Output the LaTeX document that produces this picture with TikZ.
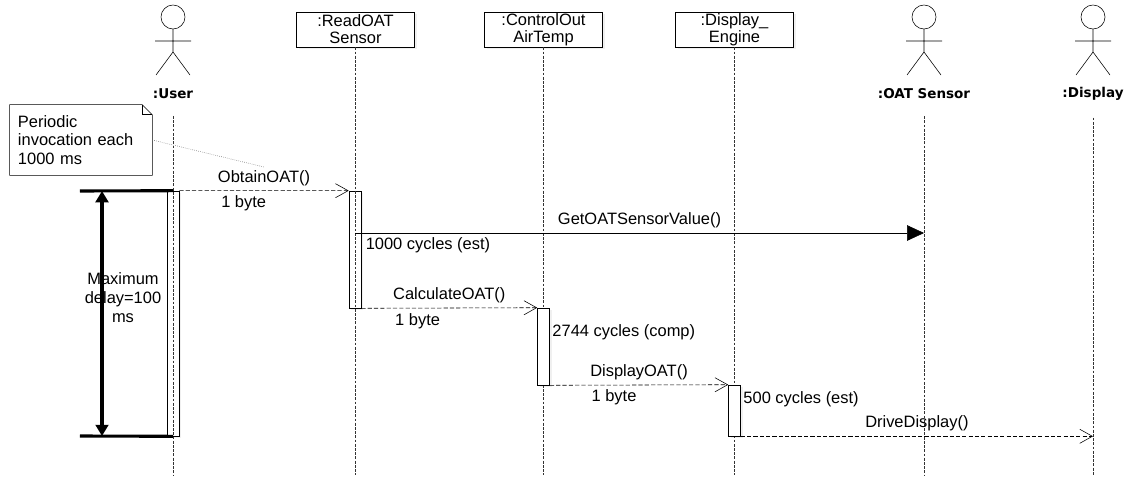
\documentclass[tikz,border=0pt]{standalone}
\usepackage{fontspec}
\setmainfont{Liberation Sans}
\newfontfamily\actorfont{DejaVu Sans}
\usepackage{tikz}
\usetikzlibrary{arrows.meta, shadows}

\begin{document}
\begin{tikzpicture}[x=0.025cm, y=-0.025cm,
  font=\fontsize{11.7}{12.2}\selectfont,
  obj/.style={draw, fill=white, align=center, inner sep=0pt, minimum width=2.95cm, minimum height=0.875cm,
    drop shadow={opacity=0.12, shadow xshift=1.5pt, shadow yshift=-1.5pt}},
  act/.style={draw, fill=white, inner sep=0pt, minimum width=0.3cm,
    drop shadow={opacity=0.12, shadow xshift=1.5pt, shadow yshift=-1.5pt}},
  actor/.style={font=\actorfont\bfseries\fontsize{9.6}{11}\selectfont},
  life/.style={thin, dash pattern=on 2pt off 1pt, black!80},
  msg/.style={thin, dash pattern=on 3pt off 1.5pt, -{Straight Barb[length=9pt, width=10pt]}},
  call/.style={thin, -{Triangle[length=12pt, width=11pt]}},
  bar/.style={line width=2.2pt},
  dimarrow/.style={line width=2.2pt, {Triangle[length=8pt, width=9pt]}-{Triangle[length=8pt, width=9pt]}},
  note/.style={minimum width=3.55cm, minimum height=1.75cm, inner sep=0.2cm, text width=3.15cm, align=left,
    font=\fontsize{11.7}{13.3}\selectfont}]
\useasboundingbox (0,0) rectangle (1131,479);

% actors
\coordinate (uHead) at (173,17);
\draw (uHead) circle (0.3cm);
\draw (uHead) ++(0,12) -- ++(0,23) ++(-18,-11) -- ++(36,0) ++(-35,34) -- ++(17,-23) -- ++(17,23);
\node[actor] (user) at (173,94) {:User};

\coordinate (sHead) at (924,17);
\draw (sHead) circle (0.3cm);
\draw (sHead) ++(0,12) -- ++(0,23) ++(-18,-11) -- ++(36,0) ++(-35,34) -- ++(17,-23) -- ++(17,23);
\node[actor] (oat) at (924,94) {:OAT Sensor};

\coordinate (dHead) at (1093,17);
\draw (dHead) circle (0.3cm);
\draw (dHead) ++(0,12) -- ++(0,23) ++(-18,-11) -- ++(36,0) ++(-35,34) -- ++(17,-23) -- ++(17,23);
\node[actor] (dsp) at (1093,94) {:Display};

% objects
\node[obj] (read) at (355.5,29.5) {:ReadOAT\\Sensor};
\node[obj] (ctrl) at (543.5,29.5) {:ControlOut\\AirTemp};
\node[obj] (disp) at (734.5,29.5) {:Display\_\\Engine};

% activations under the lifelines
\node[act, minimum height=6.125cm] (aUser) at (173,313.5) {};
\node[act, minimum height=2.925cm] (aRead) at (355,249.5) {};

% lifelines
\coordinate (bot) at (0,475);
\draw[life, shorten <=0.3cm] (user.south) -- (user |- bot);
\draw[life, shorten <=0.3cm] (oat.south) -- (oat |- bot);
\draw[life, shorten <=0.3cm] (dsp.south) -- (dsp |- bot);
\draw[life] (read.south) -- (read |- bot);
\draw[life] (ctrl.south) -- (ctrl |- bot);
\draw[life] (disp.south) -- (disp |- bot);

% activations over the lifelines
\node[act, minimum height=1.925cm] (aCtrl) at (543.5,346.5) {};
\node[act, minimum height=1.275cm] (aDisp) at (734.5,410.5) {};

% note
\node[note] (note) at (81,140) {Periodic\\invocation each\\1000 ms};
\draw (note.north west) -- ([xshift=-0.25cm]note.north east) -- ([yshift=-0.25cm]note.north east)
  -- (note.south east) -- (note.south west) -- cycle;
\draw ([xshift=-0.25cm]note.north east) |- ([yshift=-0.25cm]note.north east);
\coordinate (noteEnd) at (264,167);
\draw[densely dotted, black!60] (note.east) -- (noteEnd);

% messages
\draw[msg] (aUser.north east) -- (aRead.north west)
  node[midway, above] {ObtainOAT()} node[pos=0.38, below] {1 byte};
\coordinate (oatIn) at (924,233);
\draw[call] (aRead.center |- oatIn) -- (oatIn) node[midway, above] {GetOATSensorValue()};
\node[anchor=north west, inner sep=3pt] at (aRead.east |- oatIn) {1000 cycles (est)};
\draw[msg] (aRead.south east) -- (aCtrl.north west)
  node[midway, above] {CalculateOAT()} node[pos=0.32, below] {1 byte};
\path (aCtrl.north east) ++(1,25) node[right, inner sep=1pt] {2744 cycles (comp)};
\draw[msg] (aCtrl.south east) -- (aDisp.north west)
  node[midway, above] {DisplayOAT()} node[pos=0.36, below] {1 byte};
\path (aDisp.north east) ++(1,15) node[right, inner sep=1pt] {500 cycles (est)};
\draw[msg] (aDisp.south east) -- (aDisp.south east -| dsp) node[midway, above] {DriveDisplay()};

% maximum delay
\coordinate (dA) at (102,191);
\coordinate (dB) at (102,436);
\draw[bar] ([xshift=-0.55cm]dA) -- (aUser.north);
\draw[bar] ([xshift=-0.55cm]dB) -- (aUser.south);
\draw[dimarrow] (dA) -- (dB);
\node[align=center, font=\fontsize{11.7}{13.5}\selectfont] at (123,298) {Maximum\\delay=100\\ms};
\end{tikzpicture}
\end{document}
